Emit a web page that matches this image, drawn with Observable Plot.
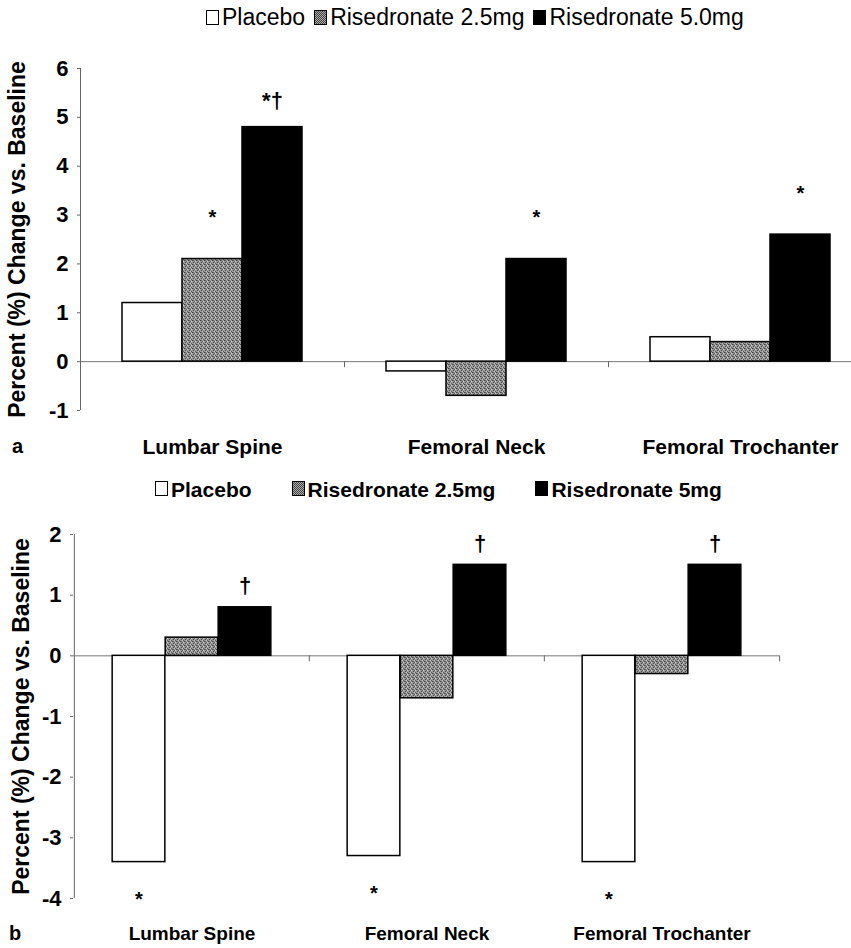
<!DOCTYPE html>
<html><head><meta charset="utf-8">
<script src="https://cdn.jsdelivr.net/npm/d3@7"></script>
<script src="https://cdn.jsdelivr.net/npm/@observablehq/plot@0.6"></script>
<style>
body{margin:0;background:#fff;}
#wrap{position:relative;width:851px;height:948px;overflow:hidden;font-family:"Liberation Sans",Arial,sans-serif;color:#000;}
.legend{position:absolute;display:flex;align-items:center;white-space:nowrap;line-height:24px;}
.sw{display:inline-block;width:13px;height:15px;border:1.5px solid #000;box-sizing:border-box;margin-right:3px;}
.sw.w{background:#fff;}
.sw.g{background:repeating-conic-gradient(#444 0 25%,#aaa 0 50%) 0 0/2px 2px;}
.sw.k{background:#000;}
.panelTag{position:absolute;font-weight:bold;font-size:20px;line-height:22px;}
.chart{position:absolute;left:0;}
.chart text{font-weight:bold;}
</style>
</head><body>
<div id="wrap"></div>
<script>
// ---------- data ----------
const sites = ["Lumbar Spine", "Femoral Neck", "Femoral Trochanter"];

const seriesA = ["Placebo", "Risedronate 2.5mg", "Risedronate 5.0mg"];
const placeboA = [1.2, -0.2, 0.5];
const rise25A = [2.1, -0.7, 0.4];
const rise50A = [4.8, 2.1, 2.6];
const ticksA = [-1, 0, 1, 2, 3, 4, 5, 6];
const annotA = [
  ["Lumbar Spine", "Risedronate 2.5mg", "*"],
  ["Lumbar Spine", "Risedronate 5.0mg", "*†"],
  ["Femoral Neck", "Risedronate 5.0mg", "*"],
  ["Femoral Trochanter", "Risedronate 5.0mg", "*"]
];

const seriesB = ["Placebo", "Risedronate 2.5mg", "Risedronate 5mg"];
const placeboB = [-3.4, -3.3, -3.4];
const rise25B = [0.3, -0.7, -0.3];
const rise5B = [0.8, 1.5, 1.5];
const ticksB = [-4, -3, -2, -1, 0, 1, 2];
const annotB = [
  ["Lumbar Spine", "Placebo", "*"],
  ["Femoral Neck", "Placebo", "*"],
  ["Femoral Trochanter", "Placebo", "*"],
  ["Lumbar Spine", "Risedronate 5mg", "†"],
  ["Femoral Neck", "Risedronate 5mg", "†"],
  ["Femoral Trochanter", "Risedronate 5mg", "†"]
];

const yLabel = "Percent (%) Change vs. Baseline";

// ---------- helpers ----------
function addPattern(svg, id) {
  const ns = "http://www.w3.org/2000/svg";
  const defs = document.createElementNS(ns, "defs");
  defs.innerHTML = `<pattern id="${id}" width="4" height="4" patternUnits="userSpaceOnUse">
    <rect width="4" height="4" fill="#9a9a9a"/>
    <rect x="0" y="0" width="1" height="1" fill="#444"/>
    <rect x="2" y="1" width="1" height="1" fill="#555"/>
    <rect x="1" y="2" width="1" height="1" fill="#444"/>
    <rect x="3" y="3" width="1" height="1" fill="#555"/>
    <rect x="3" y="1" width="1" height="1" fill="#cfcfcf"/>
    <rect x="1" y="0" width="1" height="1" fill="#666"/>
    <rect x="2" y="3" width="1" height="1" fill="#c4c4c4"/>
  </pattern>`;
  svg.insertBefore(defs, svg.firstChild);
}

function panel(o) {
  const {series, values, yDomain, yTicks, width, height, marginLeft, marginRight,
    marginTop, marginBottom, barW, catPad, catFont, labelDx, annots, patternId, endTick} = o;
  const bw = (width - marginLeft - marginRight) / sites.length;
  const groupW = barW * series.length;
  const rows = series.flatMap((s, i) => sites.map((site, j) => ({site, series: s, si: i, value: values[i][j]})));
  const fills = ["white", `url(#${patternId})`, "black"];
  const marks = [];
  marks.push(Plot.ruleY([0], {stroke: "#777", strokeWidth: 1}));
  marks.push(Plot.ruleX([sites[0]], {x: d => d, dx: -bw / 2, y1: yDomain[0], y2: yDomain[1], stroke: "#666", strokeWidth: 1}));
  marks.push(Plot.ruleX(sites.slice(1), {x: d => d, dx: -bw / 2, y1: 0, y2: 0, insetBottom: -6, stroke: "#666", strokeWidth: 1}));
  if (endTick) marks.push(Plot.ruleX([sites[sites.length - 1]], {x: d => d, dx: bw / 2, y1: 0, y2: 0, insetBottom: -6, stroke: "#666", strokeWidth: 1}));
  series.forEach((s, i) => {
    const left = (bw - groupW) / 2 + barW * i;
    marks.push(Plot.barY(rows.filter(r => r.si === i), {
      x: "site", y1: 0, y2: "value", fill: fills[i], stroke: "black", strokeWidth: 1.5,
      insetLeft: left, insetRight: bw - left - barW
    }));
  });
  annots.forEach(([site, s, label]) => {
    const si = series.indexOf(s);
    const v = values[si][sites.indexOf(site)];
    const above = v >= 0;
    let dy;
    if (label === "*") dy = above ? -35 : 44;
    else if (label === "*†") dy = -19;
    else dy = -14;
    marks.push(Plot.text([{site, v, label}], {
      x: "site", y: "v", text: "label", dx: -groupW / 2 + barW * (si + 0.5), dy,
      lineAnchor: "bottom", fontSize: label === "*" ? 20 : 22, fontWeight: "bold", fill: "black"
    }));
  });
  marks.push(Plot.axisY({ticks: yTicks, tickSize: 3, tickPadding: 9, fontSize: 22, fontWeight: "bold",
    tickFormat: d => String(d), label: null, stroke: "#666", fill: "black"}));
  marks.push(Plot.axisX({tickSize: 0, tickPadding: catPad, fontSize: catFont, fontWeight: "bold", label: null, fill: "black"}));
  marks.push(Plot.text([yLabel], {text: d => d, frameAnchor: "left", textAnchor: "middle", rotate: -90, dx: labelDx,
    fontSize: 23, fontWeight: "bold", fill: "black"}));
  const svg = Plot.plot({
    width, height, marginLeft, marginRight, marginTop, marginBottom,
    x: {type: "band", domain: sites, paddingInner: 0, paddingOuter: 0},
    y: {domain: yDomain},
    style: {fontFamily: "'Liberation Sans', Arial, sans-serif", fontWeight: "bold", color: "black", background: "white"},
    marks
  });
  addPattern(svg, patternId);
  svg.querySelectorAll("text").forEach(t => t.setAttribute("font-weight", "bold"));
  return svg;
}

function legend(series, opts) {
  const d = document.createElement("div");
  d.className = "legend";
  Object.assign(d.style, opts.style);
  const cls = ["w", "g", "k"];
  series.forEach((s, i) => {
    const item = document.createElement("span");
    item.style.display = "inline-flex";
    item.style.alignItems = "center";
    item.style.marginRight = opts.gap + "px";
    const sw = document.createElement("span");
    sw.className = "sw " + cls[i];
    if (opts.raise) sw.style.transform = `translateY(${-opts.raise}px)`;
    const t = document.createElement("span");
    t.textContent = s;
    item.append(sw, t);
    d.append(item);
  });
  return d;
}

const wrap = document.getElementById("wrap");

// ---------- panel a ----------
wrap.append(legend(seriesA, {gap: 9, style: {left: "206px", top: "5px", fontSize: "23px"}}));
const svgA = panel({
  series: seriesA, values: [placeboA, rise25A, rise50A], yDomain: [-1, 6], yTicks: ticksA,
  width: 851, height: 430, marginLeft: 80, marginRight: -21, marginTop: 28, marginBottom: 60,
  barW: 60, catPad: 29, catFont: 21, labelDx: -63, annots: annotA, patternId: "stipA", endTick: false
});
svgA.classList.add("chart");
svgA.style.top = "40px";
wrap.append(svgA);
const tagA = document.createElement("div");
tagA.className = "panelTag"; tagA.textContent = "a";
Object.assign(tagA.style, {left: "12px", top: "435px"});
wrap.append(tagA);

// ---------- panel b ----------
wrap.append(legend(seriesB, {gap: 40, raise: 2, style: {left: "155px", top: "478px", fontSize: "21px", fontWeight: "bold"}}));
const svgB = panel({
  series: seriesB, values: [placeboB, rise25B, rise5B], yDomain: [-4, 2], yTicks: ticksB,
  width: 851, height: 443, marginLeft: 73, marginRight: 72, marginTop: 29, marginBottom: 50,
  barW: 53, catPad: 28, catFont: 19, labelDx: -52, annots: annotB, patternId: "stipB", endTick: true
});
svgB.classList.add("chart");
svgB.style.top = "505px";
wrap.append(svgB);
const tagB = document.createElement("div");
tagB.className = "panelTag"; tagB.textContent = "b";
Object.assign(tagB.style, {left: "9px", top: "922px"});
wrap.append(tagB);
</script>
</body></html>
